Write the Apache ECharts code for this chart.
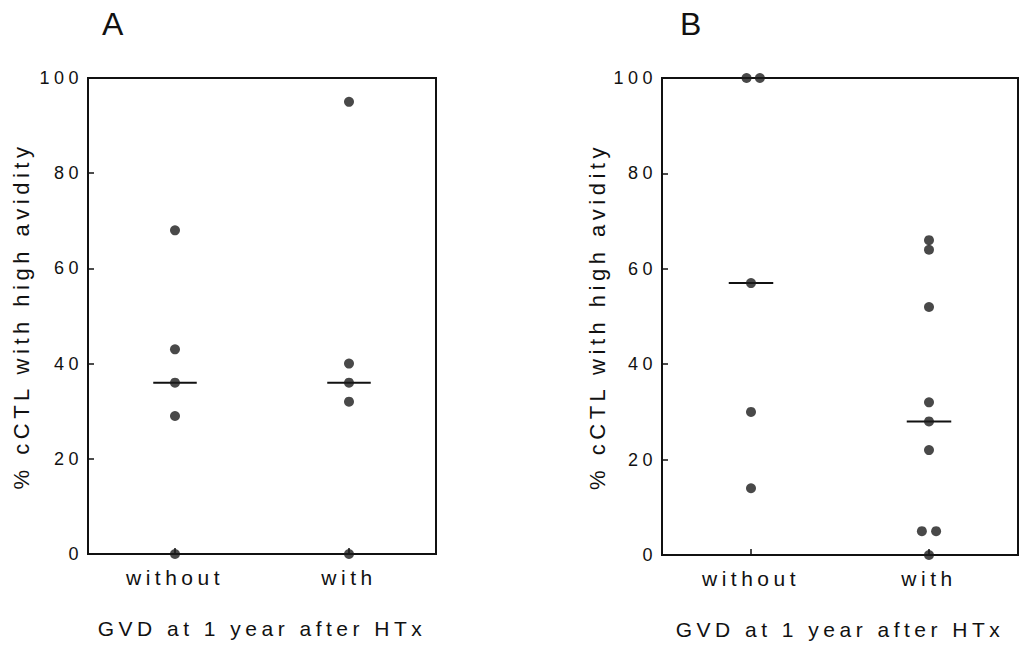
<!DOCTYPE html>
<html>
<head>
<meta charset="utf-8">
<script src="https://cdn.jsdelivr.net/npm/echarts@6/dist/echarts.min.js"></script>
<style>
  html, body { margin: 0; padding: 0; background: #fff; }
  #chart { width: 1024px; height: 649px; letter-spacing: 4.5px; }
</style>
</head>
<body>
<div id="chart"></div>
<script>
// groups on the x axis (positions 1 and 3 of a 0..4 value axis)
const groups = ['without', 'with']
const groupPos = [1, 3]

// panel A
const aWithout = [68, 43, 36, 29, 0]
const aWith = [95, 40, 36, 32, 0]
const aMedians = [36, 36]

// panel B (small x offsets where dots sit side by side)
const bWithout = [100, 100, 57, 30, 14]
const bWithoutJitter = [-0.05, 0.1, 0, 0, 0]
const bWith = [66, 64, 52, 32, 28, 22, 5, 5, 0]
const bWithJitter = [0, 0, 0, 0, 0, 0, -0.08, 0.08, 0]
const bMedians = [57, 28]

const yName = '% cCTL with high avidity'
const xName = 'GVD at 1 year after HTx'

const chart = echarts.init(document.getElementById('chart'), null, { renderer: 'svg' })

const font = 'Liberation Sans, Arial, Helvetica, sans-serif'
const ink = '#111'

const toPoints = (ys, gi, jitter) =>
  ys.map((v, i) => [groupPos[gi] + (jitter ? jitter[i] : 0), v])

const medianLine = (gi, m, idx) => ({
  type: 'line',
  xAxisIndex: idx,
  yAxisIndex: idx,
  data: [[groupPos[gi] - 0.25, m], [groupPos[gi] + 0.25, m]],
  symbol: 'none',
  lineStyle: { color: ink, width: 2 },
  silent: true,
  z: 1
})

const dots = (data, idx) => ({
  type: 'scatter',
  xAxisIndex: idx,
  yAxisIndex: idx,
  data,
  symbolSize: 10,
  itemStyle: { color: '#1c1c1c' },
  z: 3
})

const makeX = (gi) => ({
  type: 'value',
  gridIndex: gi,
  min: 0,
  max: 4,
  name: xName,
  nameLocation: 'middle',
  nameGap: 64,
  nameTextStyle: { fontFamily: font, fontSize: 21, color: ink },
  axisLine: { show: false },
  axisTick: { show: true, inside: true, length: 6, customValues: groupPos, lineStyle: { color: ink, width: 1.5 } },
  axisLabel: {
    customValues: groupPos,
    formatter: v => groups[groupPos.indexOf(v)],
    fontFamily: font, fontSize: 21, color: ink, margin: 13
  },
  splitLine: { show: false }
})

const makeY = (gi, gap) => ({
  type: 'value',
  gridIndex: gi,
  min: 0,
  max: 100,
  interval: 20,
  name: yName,
  nameLocation: 'middle',
  nameGap: gap,
  nameRotate: 90,
  nameTextStyle: { fontFamily: font, fontSize: 22, color: ink },
  axisLine: { show: false },
  axisTick: { show: true, inside: true, length: 6, lineStyle: { color: ink, width: 1.5 } },
  axisLabel: { fontFamily: font, fontSize: 18, color: ink, margin: 5 },
  splitLine: { show: false }
})

const option = {
  animation: false,
  backgroundColor: '#fff',
  title: [
    { text: 'A', left: 97, top: 3, textStyle: { fontFamily: font, fontSize: 32, fontWeight: 'normal', color: ink } },
    { text: 'B', left: 675, top: 3, textStyle: { fontFamily: font, fontSize: 32, fontWeight: 'normal', color: ink } }
  ],
  grid: [
    { left: 88, top: 78, width: 348, height: 476, show: true, borderColor: ink, borderWidth: 2, backgroundColor: 'transparent' },
    { left: 662, top: 78, width: 356, height: 477, show: true, borderColor: ink, borderWidth: 2, backgroundColor: 'transparent' }
  ],
  xAxis: [makeX(0), makeX(1)],
  yAxis: [makeY(0, 56), makeY(1, 54)],
  series: [
    medianLine(0, aMedians[0], 0),
    medianLine(1, aMedians[1], 0),
    dots(toPoints(aWithout, 0), 0),
    dots(toPoints(aWith, 1), 0),
    medianLine(0, bMedians[0], 1),
    medianLine(1, bMedians[1], 1),
    dots(toPoints(bWithout, 0, bWithoutJitter), 1),
    dots(toPoints(bWith, 1, bWithJitter), 1)
  ]
}

chart.setOption(option)
</script>
</body>
</html>
